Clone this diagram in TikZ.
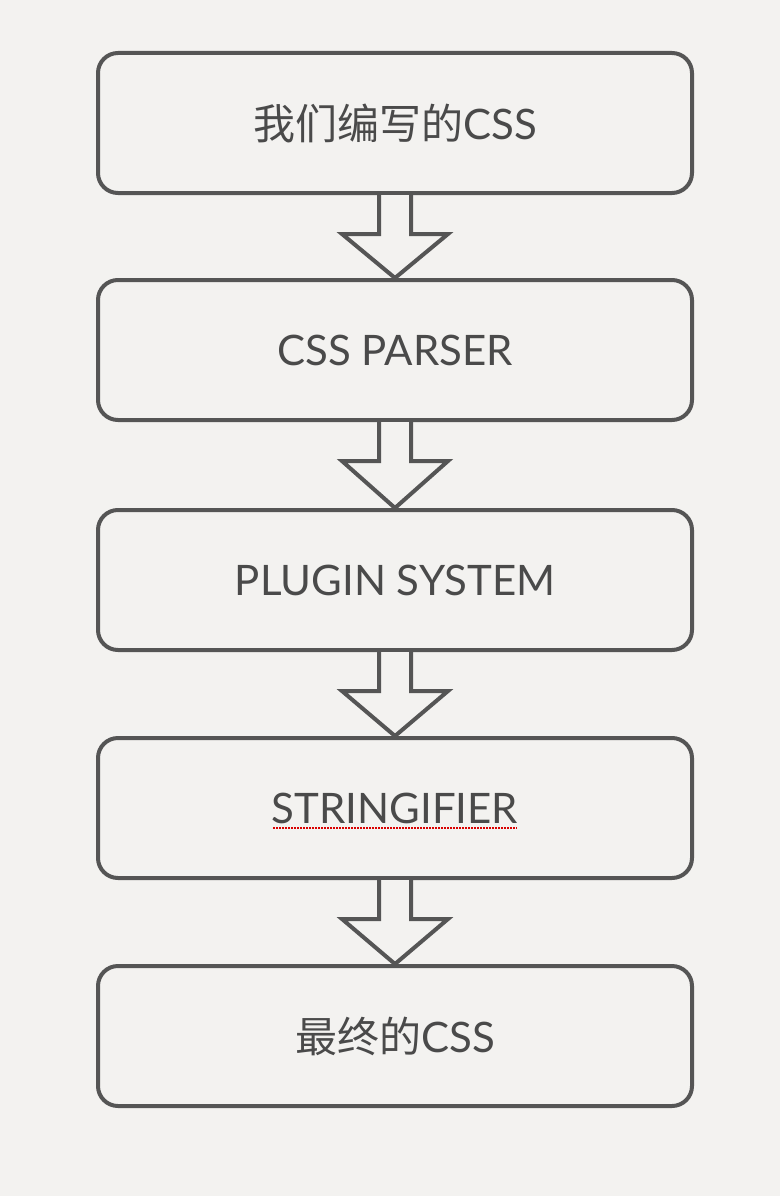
\documentclass[tikz,border=0pt]{standalone}
\usepackage{fontspec}
\setmainfont{Lato}
\newfontfamily\cjk{Noto Sans CJK SC}
\usetikzlibrary{calc}
\definecolor{paper}{HTML}{F3F2F0}
\definecolor{ink}{HTML}{555555}
\definecolor{txt}{HTML}{4A4A4A}
\tikzset{
  stagebox/.style={draw=ink, line width=4pt, rounded corners=20pt, fill=paper,
    minimum width=594pt, minimum height=140pt, inner sep=0pt,
    text=txt, font=\fontsize{42}{48}\selectfont},
  flowarrow/.style={draw=ink, line width=4pt, line join=miter, fill=paper}
}
\newcommand{\blockarrow}[2]{%
  \draw[flowarrow] ($(#1.south)+(-16,0)$) -- ($(#1.south)+(-16,39)$)
    -- ($(#1.south)+(-53,39)$) -- (#2.north)
    -- ($(#1.south)+(53,39)$) -- ($(#1.south)+(16,39)$) -- ($(#1.south)+(16,0)$);}
\begin{document}
\begin{tikzpicture}[x=1pt,y=-1pt]
\fill[paper] (0,0) rectangle (780,1196);
\useasboundingbox (0,0) rectangle (780,1196);
\node[stagebox] (b1) at (395,123) {{\cjk 我们编写的}CSS};
\node[stagebox] (b2) at (395,350) {CSS PARSER};
\node[stagebox] (b3) at (395,580) {PLUGIN SYSTEM};
\node[stagebox] (b4) at (395,808) {STRINGIFIER};
\node[stagebox] (b5) at (395,1036) {{\cjk 最终的}CSS};
\blockarrow{b1}{b2}
\blockarrow{b2}{b3}
\blockarrow{b3}{b4}
\blockarrow{b4}{b5}
\coordinate (ulL) at ($(b4.center)+(-122,20)$);
\coordinate (ulR) at ($(b4.center)+(122,20)$);
\draw[red!85!black, line width=1.5pt, dash pattern=on 1.5pt off 1.5pt] (ulL) -- (ulR);
\end{tikzpicture}
\end{document}
